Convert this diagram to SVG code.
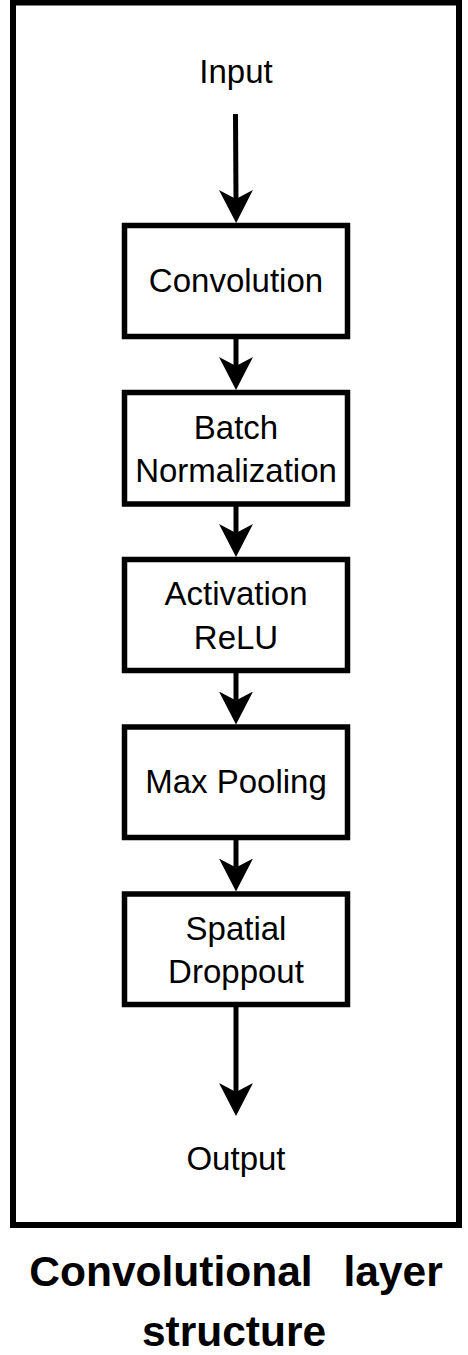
<svg xmlns="http://www.w3.org/2000/svg" width="468" height="1355" viewBox="0 0 468 1355">
<style>
.box{fill:#fff;stroke:#000;stroke-width:5.5}
.frame{fill:#fff;stroke:#000;stroke-width:6}
.lbl{font-family:"Liberation Sans",Arial,sans-serif;font-size:33px;fill:#000;text-anchor:middle}
.title{font-family:"Liberation Sans",Arial,sans-serif;font-size:42.5px;font-weight:bold;fill:#000;text-anchor:middle}
.conn{stroke:#000;stroke-width:5;fill:none}
</style>
<defs>
<marker id="arr" markerUnits="userSpaceOnUse" markerWidth="40" markerHeight="40" refX="9" refY="17" orient="auto" viewBox="0 0 40 40">
<path d="M0,0 L33,17 L0,34 L9,17 Z" fill="#000"/>
</marker>
</defs>
<rect class="frame" x="13" y="2.5" width="446" height="1222.5"/>
<g id="input"><text class="lbl" x="236" y="83">Input</text></g>
<g id="convolution"><rect class="box" x="124.5" y="225.5" width="223" height="111"/><text class="lbl" x="236" y="292">Convolution</text></g>
<g id="batchnorm"><rect class="box" x="124.5" y="392.5" width="223" height="111.5"/><text class="lbl" x="236" y="438.5">Batch</text><text class="lbl" x="236" y="482">Normalization</text></g>
<g id="activation"><rect class="box" x="124.5" y="559.5" width="223" height="111"/><text class="lbl" x="236" y="605">Activation</text><text class="lbl" x="236" y="648.5">ReLU</text></g>
<g id="maxpool"><rect class="box" x="124.5" y="727" width="223" height="110.5"/><text class="lbl" x="236" y="793">Max Pooling</text></g>
<g id="dropout"><rect class="box" x="124.5" y="894" width="223" height="110.5"/><text class="lbl" x="236" y="939.5">Spatial</text><text class="lbl" x="236" y="982.5">Droppout</text></g>
<g id="output"><text class="lbl" x="236" y="1169.5">Output</text></g>
<g id="connectors">
<line class="conn" x1="235.5" y1="114" x2="236" y2="199" marker-end="url(#arr)"/>
<line class="conn" x1="236" y1="336.5" x2="236" y2="366" marker-end="url(#arr)"/>
<line class="conn" x1="236" y1="504" x2="236" y2="533" marker-end="url(#arr)"/>
<line class="conn" x1="236" y1="670.5" x2="236" y2="700.5" marker-end="url(#arr)"/>
<line class="conn" x1="236" y1="837.5" x2="236" y2="867.5" marker-end="url(#arr)"/>
<line class="conn" x1="236" y1="1004.5" x2="236" y2="1092" marker-end="url(#arr)"/>
</g>
<g id="title">
<text class="title" x="236" y="1286" word-spacing="19">Convolutional layer</text>
<text class="title" x="234" y="1346">structure</text>
</g>
</svg>
